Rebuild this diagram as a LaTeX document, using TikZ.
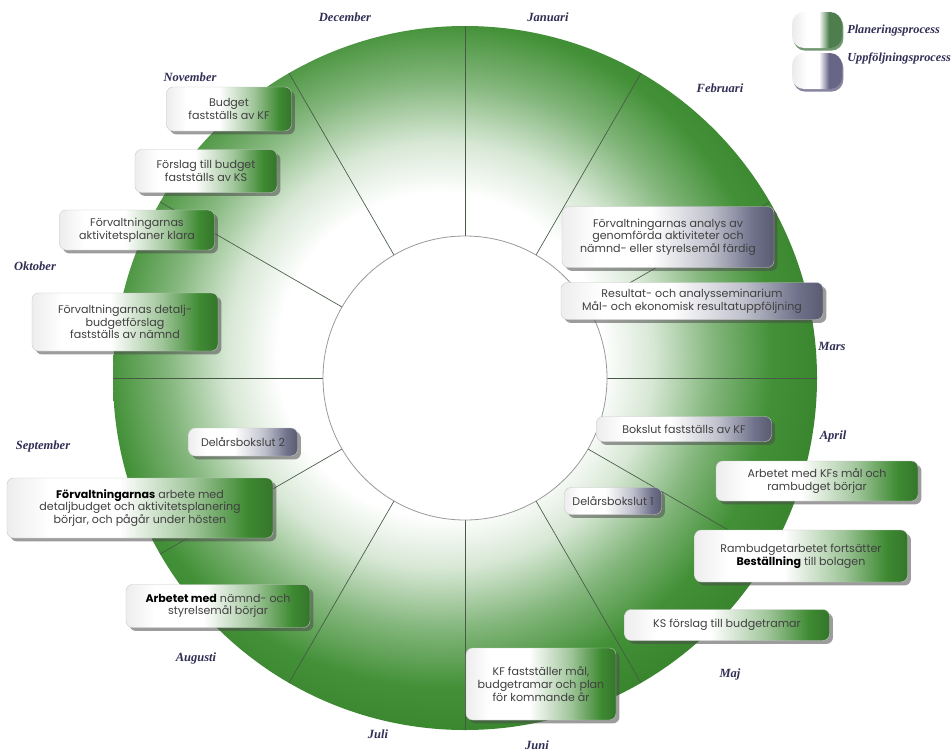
\documentclass[tikz,border=0pt]{standalone}
\usepackage{fontspec}
\setmainfont{Liberation Serif}
\newfontfamily\boxfont{Poppins}
\usetikzlibrary{shadows}
\definecolor{ringgreen}{RGB}{56,138,44}
\definecolor{boxgreen}{RGB}{62,138,50}
\definecolor{boxgray}{RGB}{112,114,140}
\definecolor{monthcol}{RGB}{48,46,84}
\definecolor{spokecol}{RGB}{70,90,70}
\definecolor{leggreen}{RGB}{78,126,78}
\definecolor{legpurple}{RGB}{104,102,134}
\pgfdeclareradialshading{ringshade}{\pgfpointorigin}{color(0bp)=(white); color(9.5bp)=(white); color(12.5bp)=(white!80!ringgreen); color(16bp)=(white!38!ringgreen); color(19.5bp)=(ringgreen!95!white); color(25bp)=(ringgreen!90!black); color(50bp)=(ringgreen!90!black)}
\pgfdeclarehorizontalshading{gshade}{100bp}{color(0bp)=(black!7); color(25bp)=(black!7); color(33bp)=(white); color(46bp)=(white); color(60bp)=(boxgreen!50!white); color(70bp)=(boxgreen); color(75bp)=(boxgreen!85!black); color(100bp)=(boxgreen!85!black)}
\pgfdeclarehorizontalshading{yshade}{100bp}{color(0bp)=(black!7); color(25bp)=(black!7); color(33bp)=(white); color(46bp)=(white); color(60bp)=(boxgray!45!white); color(70bp)=(boxgray); color(75bp)=(boxgray!80!black); color(100bp)=(boxgray!80!black)}
\pgfdeclarehorizontalshading{lgshade}{100bp}{color(0bp)=(white); color(25bp)=(black!8); color(40bp)=(white); color(52bp)=(white); color(62bp)=(leggreen); color(100bp)=(leggreen)}
\pgfdeclarehorizontalshading{lpshade}{100bp}{color(0bp)=(white); color(25bp)=(black!8); color(40bp)=(white); color(52bp)=(white); color(62bp)=(legpurple); color(100bp)=(legpurple)}
\tikzset{
  boxbase/.style={rounded corners=5pt, draw=black!22, line width=0.3pt, align=center,
    font=\boxfont\fontsize{8.3}{9.5}\selectfont, text=black!75, inner sep=0pt,
    drop shadow={shadow xshift=2.6pt, shadow yshift=-2.6pt, fill=black!70, opacity=0.55}},
  gbox/.style={boxbase, shading=gshade},
  ybox/.style={boxbase, shading=yshade},
  sz/.style 2 args={minimum width=#1*0.75pt, minimum height=#2*0.75pt},
  month/.style={font=\fontsize{9.4}{11}\selectfont\bfseries\itshape, text=monthcol, inner sep=0pt},
  legtext/.style={font=\fontsize{9.2}{10}\selectfont\bfseries\itshape, text=monthcol, inner sep=0pt, anchor=west},
  spoke/.style={draw=spokecol, line width=0.5pt},
}
\begin{document}
\begin{tikzpicture}[x=0.75pt,y=-0.75pt]
\useasboundingbox[fill=white] (0,0) rectangle (952,753);
\coordinate (c) at (465,378);
\coordinate (sc) at (440,355);
% ring
\begin{scope}
  \clip (c) circle [radius=264pt];
  \shade[shading=ringshade] (sc) circle [radius=320pt];
\end{scope}
\foreach \a in {0,30,...,330}{
  \draw[spoke] (c) ++(\a:106.5pt) -- ++(\a:157.5pt);
}
\fill[white] (c) circle [radius=106.5pt];
\draw[black!40, line width=0.6pt] (c) circle [radius=106.5pt];

% legend
\node[shading=lgshade, rounded corners=9pt, sz={50}{36}, inner sep=0pt,
  drop shadow={shadow xshift=1pt, shadow yshift=-2pt, fill=leggreen, opacity=0.8}] (lg1) at (817,30) {};
\node[shading=lpshade, rounded corners=9pt, sz={50}{36}, inner sep=0pt,
  drop shadow={shadow xshift=1pt, shadow yshift=-2pt, fill=legpurple, opacity=0.8}] (lg2) at (817,71) {};
\node[legtext] (lt1) at (847,31) {Planeringsprocess};
\node[legtext] (lt2) at (847,58) {Uppföljningsprocess};

% months
\node[month] (dec) at (345,17) {December};
\node[month] (jan) at (548,17) {Januari};
\node[month] (feb) at (720,88) {Februari};
\node[month] (mar) at (832,346) {Mars};
\node[month] (apr) at (833,436) {April};
\node[month] (maj) at (730,674) {Maj};
\node[month] (jun) at (537,745) {Juni};
\node[month] (jul) at (378,734) {Juli};
\node[month] (aug) at (196,658) {Augusti};
\node[month] (sep) at (43,446) {September};
\node[month] (okt) at (35,266) {Oktober};
\node[month] (nov) at (190,77) {November};

% boxes
\node[gbox, sz={125}{44}] (b1) at (229,109) {Budget\\fastställs av KF};
\node[gbox, sz={142}{43}] (b2) at (206,171) {Förslag till budget\\fastställs av KS};
\node[gbox, sz={155}{40}] (b3) at (137,230) {Förvaltningarnas\\aktivitetsplaner klara};
\node[gbox, sz={186}{58}] (b4) at (125,322) {Förvaltningarnas detalj-\\budgetförslag\\fastställs av nämnd};
\node[ybox, sz={212}{61}] (b5) at (668,237) {Förvaltningarnas analys av\\genomförda aktiviteter och\\nämnd- eller styrelsemål färdig};
\node[ybox, sz={262}{37}] (b6) at (692,301) {Resultat- och analysseminarium\\Mål- och ekonomisk resultatuppföljning};
\node[ybox, sz={175}{25}] (b7) at (684,429) {Bokslut fastställs av KF};
\node[gbox, sz={202}{40}] (b8) at (817,481) {Arbetet med KFs mål och\\rambudget börjar};
\node[ybox, sz={97}{27}] (b9) at (613,501) {Delårsbokslut 1};
\node[ybox, sz={109}{28}] (b10) at (243,442) {Delårsbokslut 2};
\node[gbox, sz={266}{60}] (b11) at (140,508) {\textbf{\color{black}Förvaltningarnas} arbete med\\detaljbudget och aktivitetsplanering\\börjar, och pågår under hösten};
\node[gbox, sz={213}{52}] (b12) at (801,556) {Rambudgetarbetet fortsätter\\\textbf{\color{black}Beställning} till bolagen};
\node[gbox, sz={184}{43}] (b13) at (218,606) {\textbf{\color{black}Arbetet med} nämnd- och\\styrelsemål börjar};
\node[gbox, sz={205}{31}] (b14) at (727,625) {KS förslag till budgetramar};
\node[gbox, sz={150}{72}] (b15) at (541,684) {KF fastställer mål,\\budgetramar och plan\\för kommande år};
\end{tikzpicture}
\end{document}
